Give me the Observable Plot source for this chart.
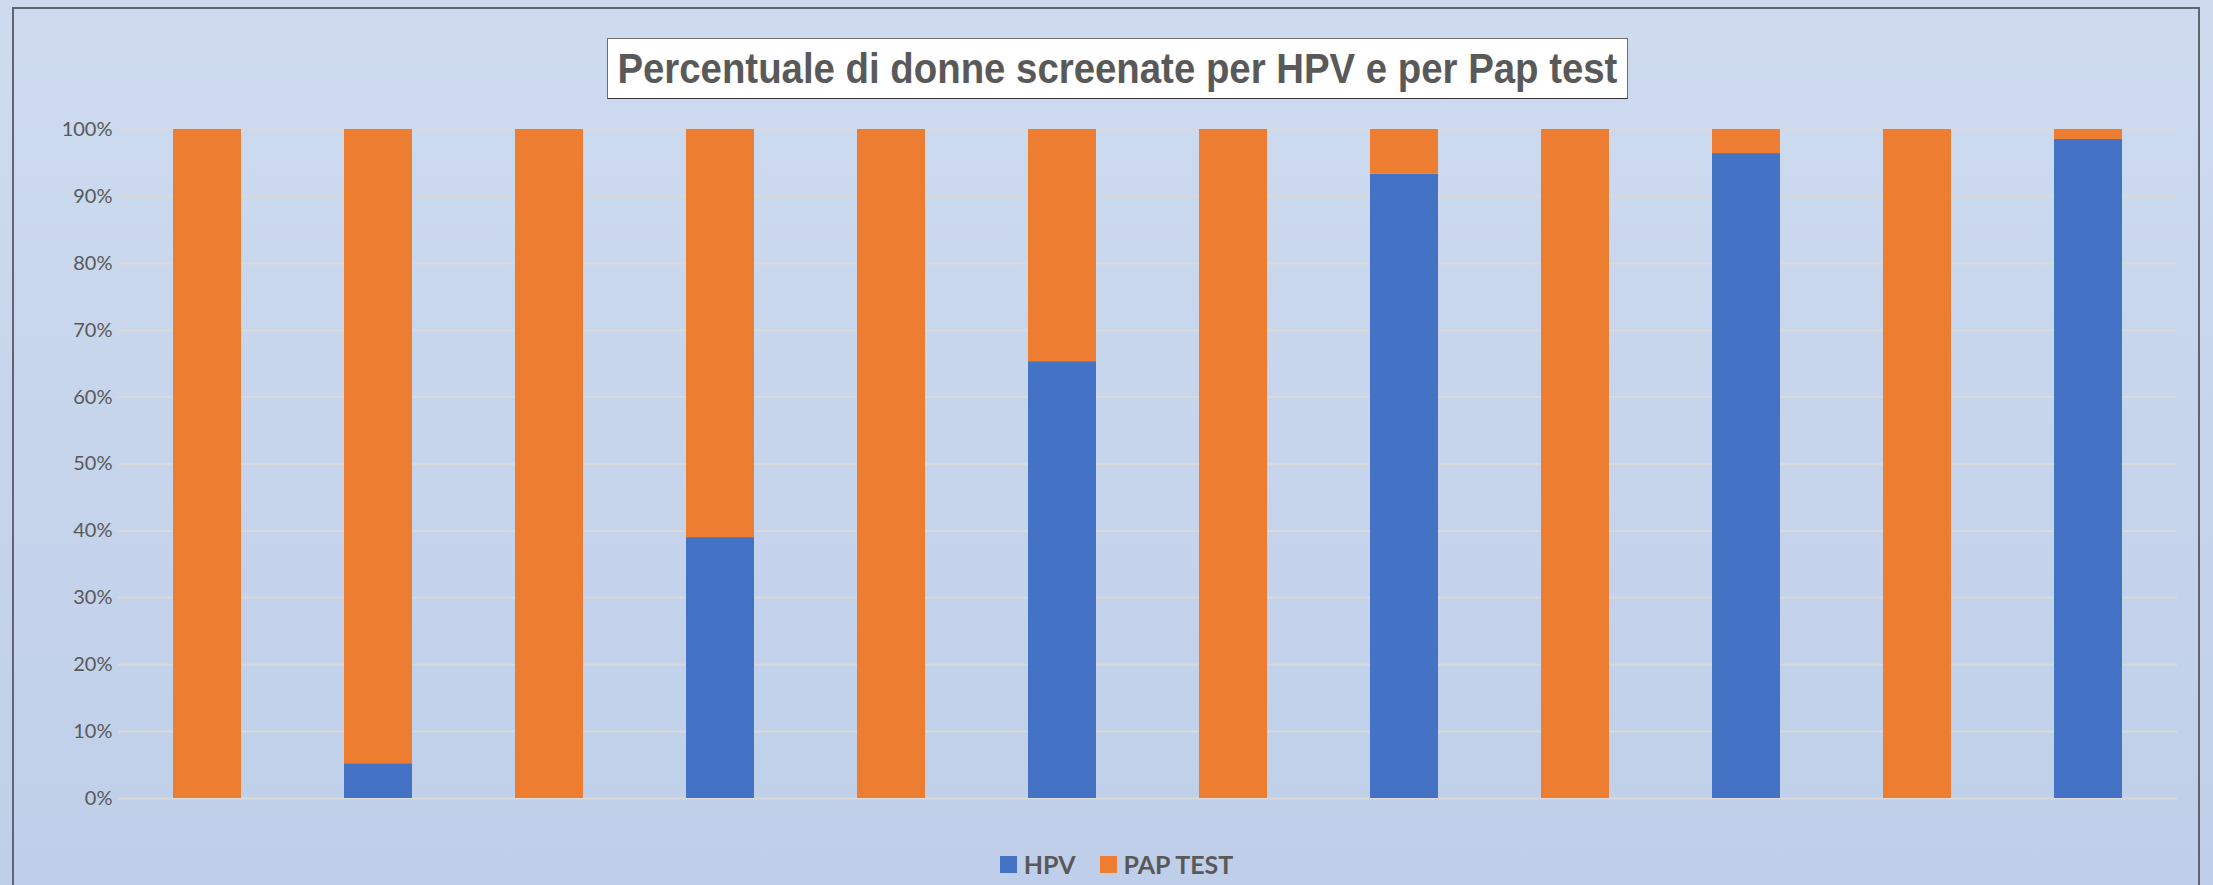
<!DOCTYPE html>
<html>
<head>
<meta charset="utf-8">
<script src="https://cdn.jsdelivr.net/npm/d3@7"></script>
<script src="https://cdn.jsdelivr.net/npm/@observablehq/plot@0.6"></script>
<style>
  html, body { margin: 0; padding: 0; }
  body { width: 2213px; height: 885px; overflow: hidden; position: relative;
         background: linear-gradient(to bottom, #cedbef 0%, #bfcfe9 100%); }
  #frame { position: absolute; left: 12px; top: 7px; width: 2188px; height: 900px;
           border: 2px solid #5f6672; box-sizing: border-box; }
  #title { position: absolute; left: 607px; top: 38px; width: 1021px; height: 61px;
           background: #fff; border: 1.5px solid #6e6e6e; border-bottom-color: #333;
           box-sizing: border-box; display: flex; align-items: center; justify-content: center;
           overflow: hidden; }
  #title span { font-family: "Liberation Sans", Arial, sans-serif;
           font-weight: bold; font-size: 43px; color: #595959; white-space: nowrap;
           display: inline-block; transform-origin: center center; }
  #chart { position: absolute; left: 0; top: 100px; }
  #legend { position: absolute; left: 10px; width: 2213px; top: 849px; display: flex;
            justify-content: center; align-items: center;
            font-family: Lato, "Open Sans", sans-serif; font-weight: bold; font-size: 25px; color: #595959; }
  .sw { display: inline-block; width: 17px; height: 17px; margin-right: 7px; }
  .item { display: flex; align-items: center; margin: 0 12px; }
</style>
</head>
<body>
<div id="frame"></div>
<div id="title"><span id="titleText">Percentuale di donne screenate per HPV e per Pap test</span></div>
<div id="chart"></div>
<div id="legend"></div>
<script>
// Categories (no labels shown in the reference)
const categories = ["1","2","3","4","5","6","7","8","9","10","11","12"];
// Series values, percent of screened women
const hpv     = [0, 5.2, 0, 39.0, 0, 65.3, 0, 93.3, 0, 96.4, 0, 98.5];
const papTest = [100, 94.8, 100, 61.0, 100, 34.7, 100, 6.7, 100, 3.6, 100, 1.5];
const seriesNames = ["HPV", "PAP TEST"];
const seriesColors = ["#4472c4", "#ed7d31"];
const yTicks = [0,10,20,30,40,50,60,70,80,90,100];

const rows = [];
categories.forEach((c, i) => {
  rows.push({cat: c, series: seriesNames[0], value: hpv[i]});
  rows.push({cat: c, series: seriesNames[1], value: papTest[i]});
});

const chart = Plot.plot({
  width: 2213,
  height: 720,
  marginTop: 29,
  marginBottom: 22,
  marginLeft: 118,
  marginRight: 36,
  style: {background: "transparent", fontFamily: "Lato, 'Open Sans', sans-serif"},
  x: {domain: categories, paddingInner: 0.6, paddingOuter: 0.3, axis: null},
  y: {domain: [0, 100], axis: null},
  color: {domain: seriesNames, range: seriesColors},
  marks: [
    Plot.gridY(yTicks, {stroke: "#d9d9d9", strokeOpacity: 1, strokeWidth: 2}),
    Plot.axisY(yTicks, {tickSize: 0, tickPadding: 6, tickFormat: d => d + "%",
      fontSize: 20, fill: "#595959", label: null}),
    Plot.barY(rows, Plot.stackY({x: "cat", y: "value", fill: "series", order: seriesNames}))
  ]
});
document.getElementById("chart").appendChild(chart);

// condense the title like a narrow font
const t = document.getElementById("titleText");
const w = t.getBoundingClientRect().width;
t.style.transform = `scaleX(${1000 / w})`;

const legend = document.getElementById("legend");
seriesNames.forEach((n, i) => {
  const it = document.createElement("div");
  it.className = "item";
  it.innerHTML = `<span class="sw" style="background:${seriesColors[i]}"></span><span>${n}</span>`;
  legend.appendChild(it);
});
</script>
</body>
</html>
